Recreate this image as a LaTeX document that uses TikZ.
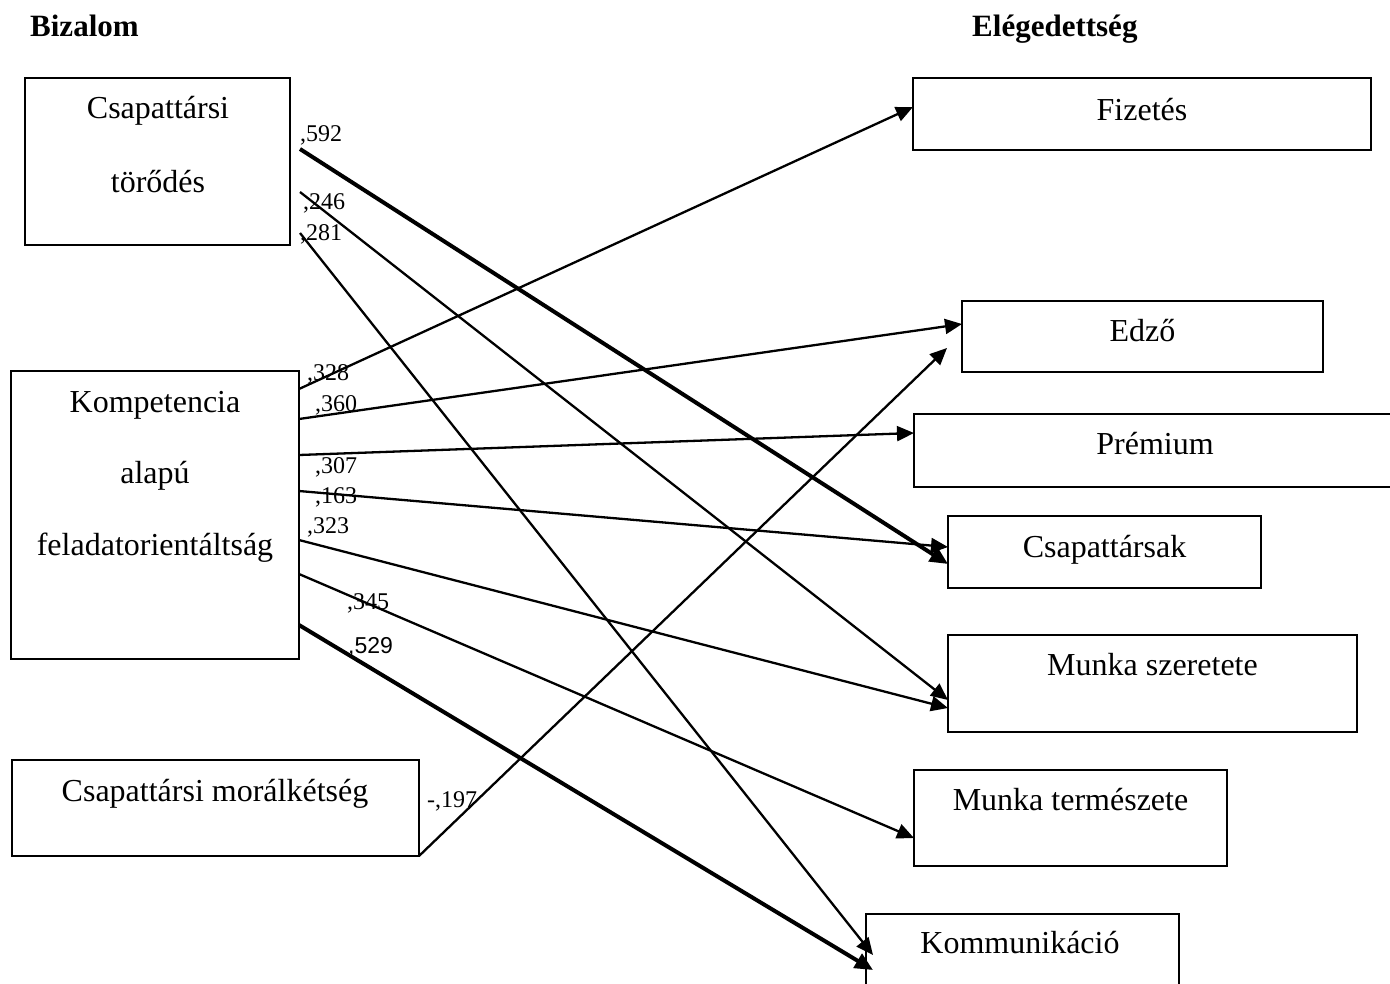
\documentclass[tikz,border=0pt]{standalone}
\usepackage{fontspec}
\setmainfont{Liberation Serif}
\newfontfamily\numsans{Liberation Sans}
\usetikzlibrary{arrows.meta}

\begin{document}
\begin{tikzpicture}[x=1pt, y=-1pt,
  box/.style={draw, line width=1.8pt, inner sep=0pt, outer sep=0pt, rectangle},
  txt/.style={anchor=base, inner sep=0pt, font=\fontsize{32}{38}\selectfont},
  head/.style={anchor=base west, inner sep=0pt, font=\fontsize{31}{38}\selectfont\bfseries},
  coef/.style={anchor=base west, inner sep=0pt, font=\fontsize{24}{28}\selectfont},
  coefsans/.style={anchor=base west, inner sep=0pt, font=\fontsize{23}{28}\selectfont\numsans},
  path/.style={line width=2.3pt, -{Triangle[length=17pt, width=15pt]}},
  strong/.style={line width=4pt, -{Triangle[length=18pt, width=16pt]}}
]
\useasboundingbox (0,0) rectangle (1390,983);
\fill[white] (0,0) rectangle (1390,983);

% column headings
\node[head] (biz) at (30,36) {Bizalom};
\node[head] (eleg) at (972,36) {Elégedettség};

% trust dimensions (left)
\node[box, minimum width=265pt, minimum height=167pt] (ct) at (157.5,161.5) {};
\node[txt] (ct1) at (158,118) {Csapattársi};
\node[txt] (ct2) at (158,192) {törődés};

\node[box, minimum width=288pt, minimum height=288pt] (kf) at (155,515) {};
\node[txt] (kf1) at (155,412) {Kompetencia};
\node[txt] (kf2) at (155,483) {alapú};
\node[txt] (kf3) at (155,555) {feladatorientáltság};

\node[box, minimum width=407pt, minimum height=96pt] (mk) at (215.5,808) {};
\node[txt] (mk1) at (215,801) {Csapattársi morálkétség};

% satisfaction dimensions (right)
\node[box, minimum width=458pt, minimum height=72pt] (fiz) at (1142,114) {};
\node[txt] (fiz1) at (1142,120) {Fizetés};

\node[box, minimum width=361pt, minimum height=71pt] (edz) at (1142.5,336.5) {};
\node[txt] (edz1) at (1142.5,341) {Edző};

\node[box, minimum width=482pt, minimum height=73pt] (prem) at (1155,450.5) {};
\node[txt] (prem1) at (1155,454) {Prémium};

\node[box, minimum width=313pt, minimum height=72pt] (cst) at (1104.5,552) {};
\node[txt] (cst1) at (1104.5,557) {Csapattársak};

\node[box, minimum width=409pt, minimum height=97pt] (msz) at (1152.5,683.5) {};
\node[txt] (msz1) at (1152.5,675) {Munka szeretete};

\node[box, minimum width=313pt, minimum height=96pt] (mt) at (1070.5,818) {};
\node[txt] (mt1) at (1070.5,810) {Munka természete};

\node[box, minimum width=313pt, minimum height=96pt] (kom) at (1022.5,962) {};
\node[txt] (kom1) at (1020,953) {Kommunikáció};

% start points of the paths
\coordinate (s592) at (300,149);
\coordinate (s246) at (300,192);
\coordinate (s281) at (300,233);
\coordinate (s328) at (kf.east |- 0,389);
\coordinate (s360) at (kf.east |- 0,419);
\coordinate (s307) at (kf.east |- 0,455);
\coordinate (s163) at (kf.east |- 0,491);
\coordinate (s323) at (kf.east |- 0,540);
\coordinate (s345) at (kf.east |- 0,574);
\coordinate (s529) at (kf.east |- 0,625);

% end points on the target boxes
\coordinate (eFiz) at (fiz.west |- 0,107);
\coordinate (eEdzA) at (edz.west |- 0,324);
\coordinate (eEdzB) at (947,348);
\coordinate (ePrem) at (prem.west |- 0,433);
\coordinate (eCstA) at (cst.west |- 0,547);
\coordinate (eCstB) at (cst.west |- 0,564);
\coordinate (eMszA) at (msz.west |- 0,700);
\coordinate (eMszB) at (msz.west |- 0,708);
\coordinate (eMt) at (mt.west |- 0,838);
\coordinate (eKomA) at (873,955);
\coordinate (eKomB) at (873,970);

% paths
\draw[strong] (s592) -- (eCstB);
\draw[path] (s246) -- (eMszA);
\draw[path] (s281) -- (eKomA);
\draw[path] (s328) -- (eFiz);
\draw[path] (s360) -- (eEdzA);
\draw[path] (s307) -- (ePrem);
\draw[path] (s163) -- (eCstA);
\draw[path] (s323) -- (eMszB);
\draw[path] (s345) -- (eMt);
\draw[strong] (s529) -- (eKomB);
\draw[path] (mk.south east) -- (eEdzB);

% path coefficients
\node[coef] (c592) at (300,141) {,592};
\node[coef] (c246) at (303,209) {,246};
\node[coef] (c281) at (300,240) {,281};
\node[coef] (c328) at (307,380) {,328};
\node[coef] (c360) at (315,411) {,360};
\node[coef] (c307) at (315,473) {,307};
\node[coef] (c163) at (315,503) {,163};
\node[coef] (c323) at (307,533) {,323};
\node[coef] (c345) at (347,609) {,345};
\node[coefsans] (c529) at (348,653) {,529};
\node[coef] (c197) at (427,807) {-,197};
\end{tikzpicture}
\end{document}
